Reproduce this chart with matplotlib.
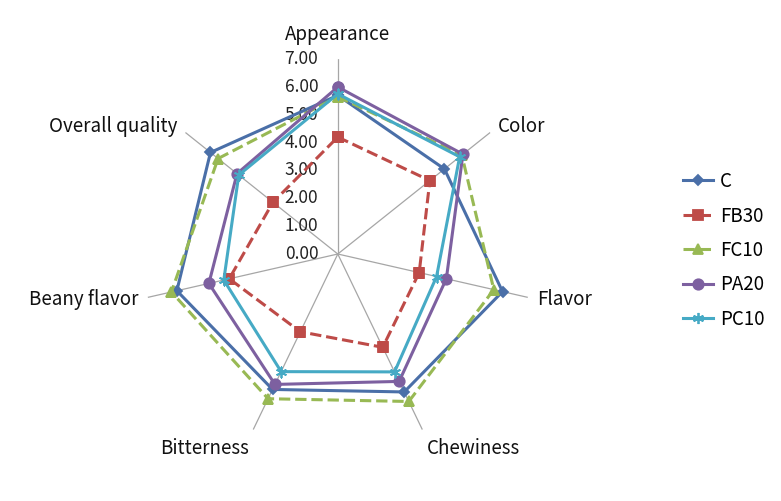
import numpy as np
import matplotlib
matplotlib.use("Agg")
import matplotlib.pyplot as plt
from matplotlib.lines import Line2D

plt.rcParams['font.family'] = ['Noto Sans CJK KR', 'DejaVu Sans']

# Attributes (clockwise from top)
categories = ["Appearance", "Color", "Flavor", "Chewiness", "Bitterness", "Beany flavor", "Overall quality"]

# Scores per sample
C = [5.70, 4.90, 6.07, 5.50, 5.40, 5.93, 5.85]
FB30 = [4.20, 4.23, 3.00, 3.72, 3.10, 4.00, 2.98]
FC10 = [5.65, 5.70, 5.75, 5.88, 5.77, 6.13, 5.50]
PA20 = [6.00, 5.75, 4.00, 5.08, 5.20, 4.75, 4.63]
PC10 = [5.75, 5.60, 3.64, 4.70, 4.69, 4.20, 4.55]

series_names = ["C", "FB30", "FC10", "PA20", "PC10"]
tick_values = [0, 1, 2, 3, 4, 5, 6, 7]

series = [C, FB30, FC10, PA20, PC10]
colors = ["#4A6FA8", "#BE4B48", "#98B954", "#7D60A0", "#46AAC5"]
markers = ["D", "s", "^", "o", (6, 2, 0)]
msizes = [5, 6.5, 7, 7.5, 8]
styles = ["-", "--", "--", "-", "-"]

n = len(categories)
angles = np.linspace(0, 2 * np.pi, n, endpoint=False)

fig = plt.figure(figsize=(7.81, 5.01), dpi=100)
ax = fig.add_axes([0.183, 0.102, 0.499, 0.782], projection="polar")
ax.set_theta_zero_location("N")
ax.set_theta_direction(-1)
ax.set_ylim(0, 7)
ax.grid(False)
ax.spines["polar"].set_visible(False)
ax.set_xticks([])
ax.set_yticks([])

# spokes
for a in angles:
    ax.plot([a, a], [0, 7], color="#A6A6A6", lw=0.9, zorder=1)

# value labels along the first axis
for v in tick_values:
    ax.annotate(f"{v:.2f}", xy=(0, v), xytext=(-14, 0), textcoords="offset points",
                ha="right", va="center", fontsize=12.5, color="#222222")

# category labels
for a, lab in zip(angles, categories):
    s, c = np.sin(a), np.cos(a)
    ha = "center" if abs(s) < 0.1 else ("left" if s > 0 else "right")
    va = "bottom" if c > 0.9 else ("top" if c < -0.5 else "center")
    r = 7.35 if abs(s) > 0.1 else 7.5
    ax.text(a, r, lab, ha=ha, va=va, fontsize=13.5, color="#111111")

ang_closed = np.append(angles, angles[0])
handles = []
for name, vals, col, mk, ms, ls in zip(series_names, series, colors, markers, msizes, styles):
    v = np.append(vals, vals[0])
    ax.plot(ang_closed, v, color=col, lw=2.2, ls=ls, marker=mk, markersize=ms,
            markeredgecolor=col, markerfacecolor=col, markeredgewidth=1.3, zorder=3)
    handles.append(Line2D([0], [0], color=col, lw=2.2, ls=ls, marker=mk, markersize=ms,
                          markeredgecolor=col, markerfacecolor=col, markeredgewidth=1.3))

fig.legend(handles, series_names, loc="center left", bbox_to_anchor=(0.853, 0.5),
           frameon=False, fontsize=13.5, handlelength=1.6, handletextpad=0.35,
           labelspacing=0.72)

fig.savefig("out.png", dpi=100)
